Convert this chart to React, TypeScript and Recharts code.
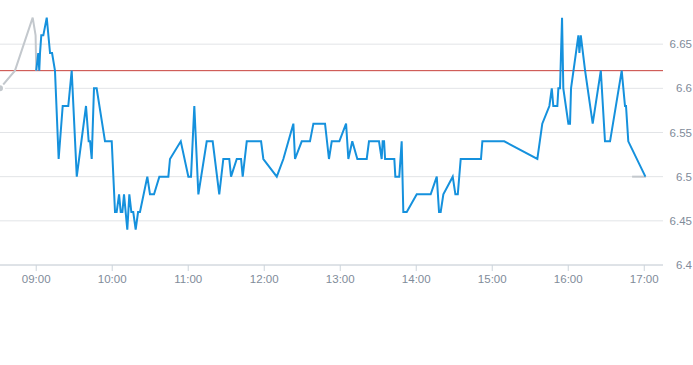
import * as React from "react";
import { LineChart, Line, XAxis, YAxis, CartesianGrid, ReferenceLine } from "recharts";

// times are minutes after 09:00
const SESSION_T = [
  0, 1.6, 2.4, 3.0, 4.0, 5.6, 8.3, 10.9, 12.5, 14.8, 17.7, 20.9, 25.3, 28.0, 32.0, 39.3,
  41.4, 42.5, 43.8, 45.6, 47.7, 54.3, 59.6, 62.2, 63.5, 65.4, 66.7, 68.0, 69.3, 71.9, 73.5,
  75.1, 76.6, 78.5, 80.4, 81.9, 87.7, 89.8, 93.0, 97.2, 104.3, 105.6, 114.1, 120.1, 122.2,
  124.8, 128.0, 134.6, 139.3, 144.5, 147.7, 152.4, 153.8, 158.3, 161.7, 163.0, 166.2, 177.5,
  179.3, 189.9, 195.1, 203.0, 204.3, 209.6, 216.1, 218.8, 228.0, 231.1, 233.3, 239.3, 244.6,
  246.4, 249.5, 253.5, 260.9, 262.7, 270.6, 272.7, 273.5, 274.6, 275.4, 282.7, 283.5, 286.6,
  288.5, 289.8, 292.5, 300.4, 311.4, 316.2, 318.0, 319.3, 321.4, 328.8, 330.9, 332.8, 335.1,
  351.1, 352.2, 369.5, 395.6, 399.5, 405.1, 407.0, 408.2, 411.4, 412.2, 413.5, 415.1, 416.1,
  420.1, 421.4, 422.2, 428.0, 428.8, 429.9, 433.3, 439.3, 445.7, 449.0, 453.0, 462.2, 464.8,
  465.6, 467.4, 480.9,
];
const SESSION_V = [
  6.62, 6.64, 6.62, 6.64, 6.66, 6.66, 6.68, 6.64, 6.64, 6.62, 6.52, 6.58, 6.58, 6.62, 6.50, 6.58,
  6.54, 6.54, 6.52, 6.60, 6.60, 6.54, 6.54, 6.46, 6.46, 6.48, 6.46, 6.46, 6.48, 6.44, 6.48,
  6.46, 6.46, 6.44, 6.46, 6.46, 6.50, 6.48, 6.48, 6.50, 6.50, 6.52, 6.54, 6.50, 6.50,
  6.58, 6.48, 6.54, 6.54, 6.48, 6.52, 6.52, 6.50, 6.52, 6.52, 6.50, 6.54, 6.54,
  6.52, 6.50, 6.52, 6.56, 6.52, 6.54, 6.54, 6.56, 6.56, 6.52, 6.54, 6.54, 6.56,
  6.52, 6.54, 6.52, 6.52, 6.54, 6.54, 6.52, 6.54, 6.54, 6.52, 6.52, 6.50, 6.50,
  6.54, 6.46, 6.46, 6.48, 6.48, 6.50, 6.46, 6.46, 6.48, 6.50, 6.48, 6.48, 6.52,
  6.52, 6.54, 6.54, 6.52, 6.56, 6.58, 6.60, 6.58, 6.58, 6.60, 6.60, 6.68, 6.60,
  6.56, 6.56, 6.60, 6.66, 6.64, 6.66, 6.62, 6.56, 6.62, 6.54, 6.54, 6.62, 6.58,
  6.58, 6.54, 6.50,
];
const PRE_T = [-28.6, -16.8, -2.8, -0.5, 0];
const PRE_V = [6.60, 6.62, 6.68, 6.66, 6.62];
const POST_T = [470.4, 481.4];
const POST_V = [6.50, 6.50];

const REF_PRICE = 6.62;
const X_TICKS = [0, 60, 120, 180, 240, 300, 360, 420, 480];
const Y_TICKS = [6.4, 6.45, 6.5, 6.55, 6.6, 6.65];

const BLUE = "#1591dd";
const GREY = "#c3c8cd";
const TEXT = "#7f8b9a";
const FONT = "Liberation Sans, Arial, sans-serif";

function buildRows() {
  const rows: Record<string, number>[] = [];
  PRE_T.forEach((t, i) => rows.push({ t, pre: PRE_V[i] }));
  SESSION_T.forEach((t, i) => rows.push({ t, price: SESSION_V[i] }));
  POST_T.forEach((t, i) => rows.push({ t, post: POST_V[i] }));
  return rows.sort((a, b) => a.t - b.t);
}

function clock(m: number) {
  const total = 540 + m;
  const h = Math.floor(total / 60);
  const mm = Math.round(total % 60);
  return `${String(h).padStart(2, "0")}:${String(mm).padStart(2, "0")}`;
}

function YTick(props: any) {
  const { y, payload } = props;
  return (
    <text x={692} y={y} dy={4} textAnchor="end" fill={TEXT} fontSize={11.5} fontFamily={FONT}>
      {payload.value}
    </text>
  );
}

export default function App() {
  const data = buildRows();
  return (
    <div style={{ position: "absolute", left: 0, top: 0 }}>
      <LineChart width={693} height={365} data={data}
                 margin={{ top: 0, right: 0, bottom: 70, left: 0 }}>
        <CartesianGrid vertical={false} stroke="#e2e4e7" horizontalValues={Y_TICKS} />
        <XAxis dataKey="t" type="number" domain={[-28.6, 494.8]} ticks={X_TICKS}
               tickFormatter={clock} stroke="#ccd4db" tickSize={6} tickMargin={4} height={30}
               tick={{ fill: TEXT, fontSize: 11.5, fontFamily: FONT }} />
        <YAxis orientation="right" domain={[6.4, 6.7]} ticks={Y_TICKS} width={30}
               axisLine={false} tickLine={false} tick={<YTick />} />
        <ReferenceLine y={REF_PRICE} stroke="#c8413b" strokeWidth={1} />
        <Line dataKey="pre" stroke={GREY} strokeWidth={2} dot={false} connectNulls
              isAnimationActive={false} />
        <Line dataKey="post" stroke={GREY} strokeWidth={2} dot={false} connectNulls
              isAnimationActive={false} />
        <Line dataKey="price" stroke={BLUE} strokeWidth={2} dot={false} connectNulls
              isAnimationActive={false} />
      </LineChart>
    </div>
  );
}
